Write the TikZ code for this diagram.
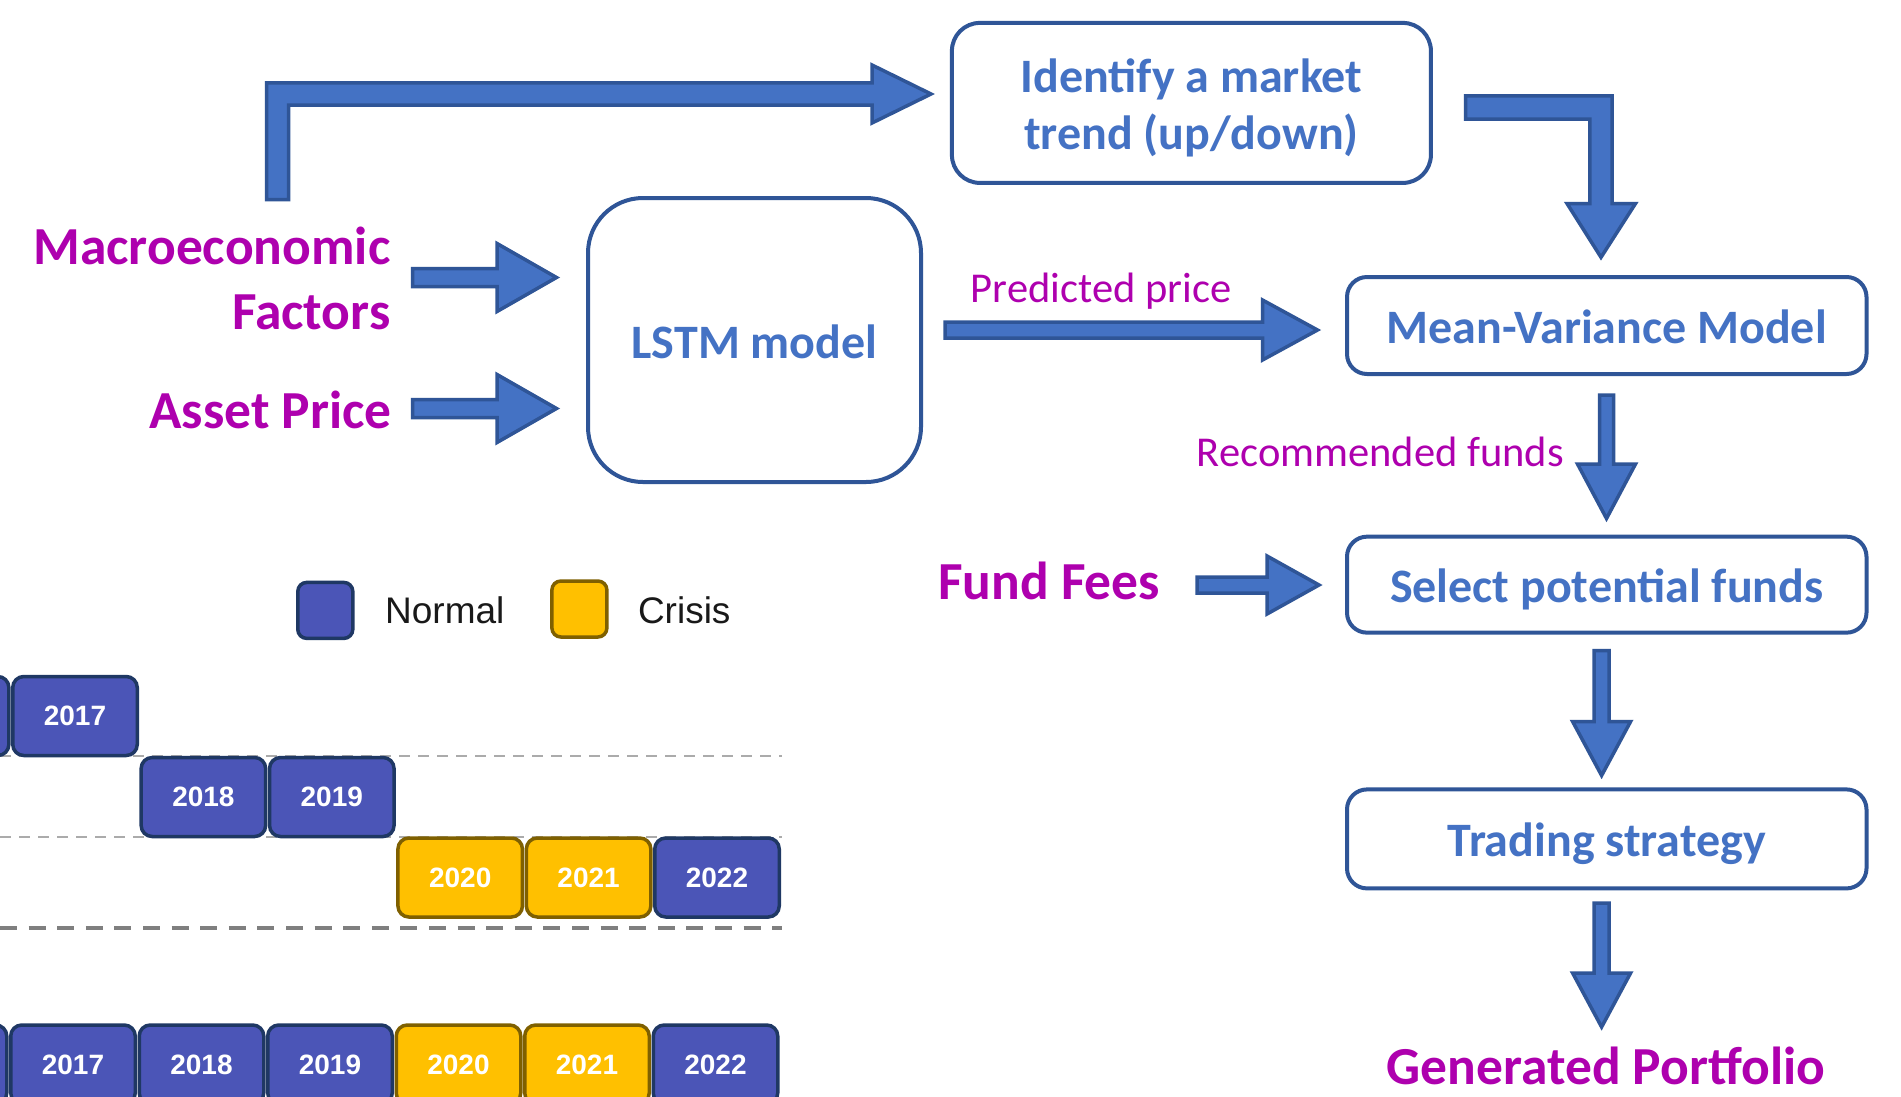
\documentclass[tikz,border=0pt]{standalone}
\usepackage{fontspec}
\setmainfont{Carlito}
\newfontfamily\yearfont{Liberation Sans}
\definecolor{arrowfill}{HTML}{4472C4}
\definecolor{arrowline}{HTML}{2F5597}
\definecolor{boxtext}{HTML}{4472C4}
\definecolor{magentatext}{HTML}{AE00AE}
\definecolor{normalfill}{HTML}{4B55B7}
\definecolor{normalline}{HTML}{1F3864}
\definecolor{crisisfill}{HTML}{FFC000}
\definecolor{crisisline}{HTML}{7F6000}
\definecolor{lightdashcol}{HTML}{ABABAB}
\definecolor{darkdashcol}{HTML}{7F7F7F}
\newcommand{\rightblock}[6]{% xstart, xtip, ycenter, shafthalf, headhalf, headlen
  \filldraw[blockarrow] (#1,#3-#4) -- (#2-#6,#3-#4) -- (#2-#6,#3-#5) -- (#2,#3)
    -- (#2-#6,#3+#5) -- (#2-#6,#3+#4) -- (#1,#3+#4) -- cycle;}
\newcommand{\downblock}[6]{% xcenter, ystart, ytip, shafthalf, headhalf, headlen
  \filldraw[blockarrow] (#1-#4,#2) -- (#1-#4,#3-#6) -- (#1-#5,#3-#6) -- (#1,#3)
    -- (#1+#5,#3-#6) -- (#1+#4,#3-#6) -- (#1+#4,#2) -- cycle;}
\tikzset{
  blockarrow/.style={fill=arrowfill, draw=arrowline, line width=3.5pt, line join=miter},
  flowbox/.style={draw=arrowline, line width=4pt, rounded corners=20pt, fill=white,
    text=boxtext, font=\fontsize{48}{57}\selectfont\bfseries, inner sep=0pt,
    text height=36pt, text depth=0pt},
  twolinebox/.style={draw=arrowline, line width=4pt, rounded corners=28pt, fill=white,
    inner sep=0pt},
  twolinetext/.style={text=boxtext, font=\fontsize{48}{57}\selectfont\bfseries,
    inner sep=0pt, align=center},
  maglabel/.style={text=magentatext, font=\fontsize{53.5}{62}\selectfont\bfseries, inner sep=0pt},
  smalllabel/.style={text=magentatext, font=\fontsize{42.5}{50}\selectfont, inner sep=0pt},
  yearbox/.style={minimum width=124.5pt, minimum height=79pt, rounded corners=11pt,
    line width=3.5pt, inner sep=0pt, text=white,
    font=\yearfont\fontsize{28}{34}\selectfont\bfseries},
  nyear/.style={yearbox, fill=normalfill, draw=normalline},
  cyear/.style={yearbox, fill=crisisfill, draw=crisisline},
  legendbox/.style={minimum width=55pt, minimum height=56pt, rounded corners=9pt,
    line width=3.5pt, inner sep=0pt},
  legendtext/.style={inner sep=0pt, text=black!90, font=\yearfont\fontsize{37}{44}\selectfont},
  lightdash/.style={draw=lightdashcol, line width=2pt, dash pattern=on 11pt off 8pt},
  darkdash/.style={draw=darkdashcol, line width=4pt, dash pattern=on 17pt off 11.6pt},
}
\begin{document}
\begin{tikzpicture}[x=1pt, y=-1pt]
\useasboundingbox (0,0) rectangle (1901,1096);
\fill[white] (0,0) rectangle (1901,1096);

% ---------- flow boxes ----------
\node[twolinebox, minimum width=479pt, minimum height=160pt,
  label={[twolinetext, yshift=-5pt]center:{Identify a market\\trend (up/down)}}] (trend) at (1191.4,102.9) {};
\node[flowbox, rounded corners=55pt, minimum width=333pt, minimum height=284pt] (lstm) at (754.5,340) {LSTM model};
\node[flowbox, minimum width=519.5pt, minimum height=97pt] (mv) at (1606.75,325.5) {Mean-Variance Model};
\node[flowbox, minimum width=519.5pt, minimum height=96pt] (select) at (1606.75,584.65) {Select potential funds};
\node[flowbox, minimum width=519.5pt, minimum height=99pt] (trading) at (1606.75,838.9) {Trading strategy};

% ---------- labels ----------
\node[maglabel, anchor=base east] (macroA) at (390.6,264) {Macroeconomic};
\node[maglabel, anchor=base east] (macroB) at (390.6,329) {Factors};
\node[maglabel, anchor=base east] (asset) at (392,428) {Asset Price};
\node[smalllabel, anchor=base] (predlabel) at (1101,302) {Predicted price};
\node[smalllabel, anchor=base east] (reclabel) at (1564,466) {Recommended funds};
\node[maglabel, anchor=base west] (fees) at (938,599) {Fund Fees};
\node[maglabel, anchor=base] (portfolio) at (1606,1084) {Generated Portfolio};

% ---------- block arrows ----------
% Macroeconomic factors -> trend (L-shaped)
\filldraw[blockarrow] (266.5,199.5) -- (266.5,82.75) -- (872,82.75) -- (872,65) -- (931,94)
  -- (872,123) -- (872,105) -- (288.5,105) -- (288.5,199.5) -- cycle;
% trend -> mean-variance (L-shaped)
\filldraw[blockarrow] (1465.5,95.75) -- (1612,95.75) -- (1612,203.5) -- (1635.5,203.5)
  -- (1601,257.3) -- (1567,203.5) -- (1589.75,203.5) -- (1589.75,119) -- (1465.5,119) -- cycle;
\rightblock{412.5}{556.5}{277.5}{9}{34}{59.5}
\rightblock{412.5}{556.5}{408.5}{9}{34}{59.5}
\rightblock{945}{1317.5}{330}{8}{30}{55}
\rightblock{1197}{1319}{585}{8}{29}{52}
\downblock{1606.5}{395}{518.5}{7}{29}{54.5}
\downblock{1601.6}{650.5}{775.5}{7.5}{29}{54}
\downblock{1601.6}{903}{1027}{7.5}{29}{54}

% ---------- legend ----------
\node[legendbox, fill=normalfill, draw=normalline] (legN) at (325.3,610.4) {};
\node[legendtext, anchor=base west] (legNt) at (385,623) {Normal};
\node[legendbox, fill=crisisfill, draw=crisisline] (legC) at (579.4,609) {};
\node[legendtext, anchor=base west] (legCt) at (637.8,623) {Crisis};

% ---------- timeline ----------
\begin{scope}
\clip (0,0) rectangle (1901,1096);
\draw[lightdash] (0,755.6) -- (782,755.6);
\draw[lightdash] (0,837) -- (782,837);
\draw[darkdash] (0,927.5) -- (782,927.5);
% row 1
\node[nyear] (r1a) at (-53.4,716) {};
\node[nyear] (r1b) at (75,716) {2017};
% row 2
\node[nyear] (r2a) at (203.4,797) {2018};
\node[nyear] (r2b) at (331.8,797) {2019};
% row 3
\node[cyear] (r3a) at (460.2,877.5) {2020};
\node[cyear] (r3b) at (588.6,877.5) {2021};
\node[nyear] (r3c) at (717,877.5) {2022};
% bottom row
\node[nyear] (b0) at (-55.5,1064.5) {};
\node[nyear] (b1) at (73,1064.5) {2017};
\node[nyear] (b2) at (201.5,1064.5) {2018};
\node[nyear] (b3) at (330,1064.5) {2019};
\node[cyear] (b4) at (458.5,1064.5) {2020};
\node[cyear] (b5) at (587,1064.5) {2021};
\node[nyear] (b6) at (715.5,1064.5) {2022};
\end{scope}
\end{tikzpicture}
\end{document}
